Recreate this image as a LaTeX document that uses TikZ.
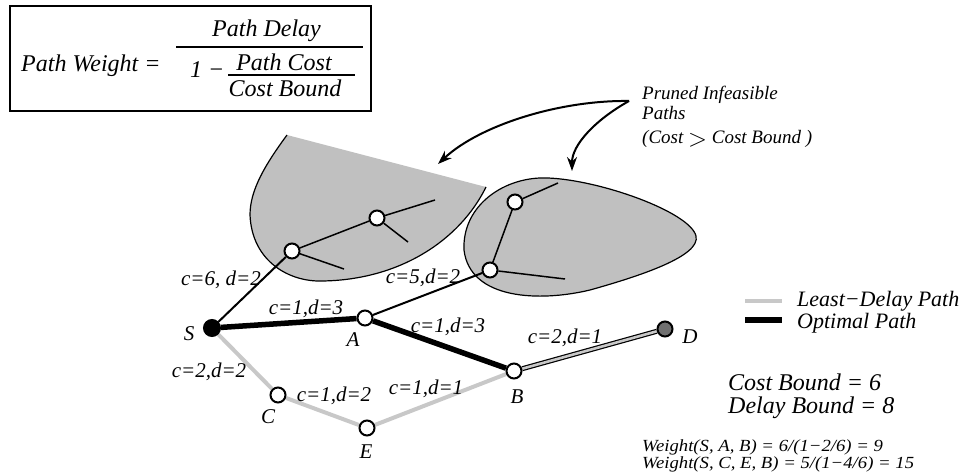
\documentclass[tikz,border=0pt]{standalone}
\usepackage{fontspec}
\setmainfont{Liberation Serif}
\usetikzlibrary{arrows.meta}
\pgfdeclarelayer{bg}
\pgfsetlayers{bg,main}
\definecolor{blobgray}{RGB}{192,192,192}
\definecolor{pathgray}{RGB}{200,200,200}
\definecolor{dgray}{RGB}{112,112,112}
\begin{document}
\begin{tikzpicture}[x=1pt,y=-1pt,
  vtx/.style={circle,draw=black,line width=2pt,fill=white,minimum size=15pt,inner sep=0pt},
  lbl/.style={font=\fontsize{21}{21}\selectfont\itshape,inner sep=0pt,anchor=base},
  fml/.style={font=\fontsize{24}{24}\selectfont\itshape,inner sep=0pt},
  legtxt/.style={font=\fontsize{22}{22}\selectfont\itshape,inner sep=0pt,anchor=base west},
  bndtxt/.style={font=\fontsize{24}{24}\selectfont\itshape,inner sep=0pt,anchor=base west},
  smalltxt/.style={font=\fontsize{19}{19}\selectfont\itshape,inner sep=0pt,anchor=base west},
  wtxt/.style={font=\fontsize{17}{17}\selectfont\itshape,inner sep=0pt,anchor=base west},
  thin/.style={line width=1.5pt},
  optimal/.style={line width=5.5pt},
  leastdelay/.style={line width=4pt,color=pathgray},
  pointer/.style={line width=2pt,-{Stealth[length=14pt,width=10pt]}},
  blob/.style={fill=blobgray}
]
\useasboundingbox (0,0) rectangle (961,476);

% ---------- formula box ----------
\node[draw=black,line width=1.3pt,minimum width=361pt,minimum height=105pt,inner sep=0pt] (fbox) at (190.5,58.5) {};
\node[fml,anchor=base west] (pw) at (21,72) {Path Weight =};
\node[fml,anchor=base] (pd) at (266.5,37) {Path Delay};
\coordinate (bar1l) at (176,47);
\coordinate (bar1r) at (363,47);
\draw[line width=1.5pt] (bar1l) -- (bar1r);
\node[fml,anchor=base west] (one) at (190,78) {1 −};
\coordinate (bar2l) at (228,75);
\coordinate (bar2r) at (355,75);
\draw[line width=1.3pt] (bar2l) -- (bar2r);
\node[fml,anchor=base] (pc) at (284,71) {Path Cost};
\node[fml,anchor=base] (cb) at (285,97) {Cost Bound};

% ---------- nodes ----------
\node[vtx,fill=black,minimum size=16pt] (S) at (212,328) {};
\node[vtx] (A) at (365,318) {};
\node[vtx] (B) at (514,371) {};
\node[vtx] (C) at (278,395) {};
\node[vtx] (E) at (367,428) {};
\node[vtx,fill=dgray] (D) at (665,329) {};
\node[vtx] (L1) at (292,251) {};
\node[vtx] (L2) at (377,218) {};
\node[vtx] (R1) at (490,270) {};
\node[vtx] (R2) at (515,202) {};
\coordinate (L1a) at (344,269);
\coordinate (L2a) at (435,200);
\coordinate (L2b) at (408,242);
\coordinate (R2a) at (558,183);
\coordinate (R1a) at (565,279);

\begin{pgfonlayer}{bg}
  % left pruned region
  \fill[blobgray] (287,135) .. controls (265,165) and (250,190) .. (250,215)
     .. controls (252,262) and (290,282) .. (322,281)
     .. controls (400,280) and (460,240) .. (486,187) -- cycle;
  \draw[line width=1.2pt] (287,135) .. controls (265,165) and (250,190) .. (250,215)
     .. controls (252,262) and (290,282) .. (322,281)
     .. controls (400,280) and (460,240) .. (486,187);
  % right pruned region
  \draw[blob,line width=1.2pt] (464,250) .. controls (462,205) and (505,176) .. (548,178)
     .. controls (600,180) and (690,212) .. (696,236)
     .. controls (701,256) and (640,276) .. (590,290)
     .. controls (540,302) and (470,300) .. (464,250) -- cycle;
  % pruned branches
  \draw[thin] (L1) -- (L2);
  \draw[thin] (L2) -- (L2a);
  \draw[thin] (L2) -- (L2b);
  \draw[thin] (L1) -- (L1a);
  \draw[thin] (R1) -- (R2);
  \draw[thin] (R2) -- (R2a);
  \draw[thin] (R1) -- (R1a);
  % main edges
  \draw[line width=2pt] (S) -- (L1);
  \draw[line width=2pt] (A) -- (R1);
  \draw[leastdelay] (S) -- (C);
  \draw[leastdelay] (C) -- (E);
  \draw[leastdelay] (E) -- (B);
  \draw[optimal] (S) -- (A);
  \draw[optimal] (A) -- (B);
  \draw[line width=5pt] (B) -- (D);
  \draw[line width=2.6pt,pathgray] (B) -- (D);
\end{pgfonlayer}

% ---------- edge labels ----------
\node[lbl] (l1) at (221,285) {c=6, d=2};
\node[lbl] (l2) at (306,314) {c=1,d=3};
\node[lbl] (l3) at (423,283) {c=5,d=2};
\node[lbl] (l4) at (448,332) {c=1,d=3};
\node[lbl] (l5) at (565,343) {c=2,d=1};
\node[lbl] (l6) at (209,377) {c=2,d=2};
\node[lbl] (l7) at (334,401) {c=1,d=2};
\node[lbl] (l8) at (426,394) {c=1,d=1};

% ---------- node names ----------
\node[lbl] (nS) at (189,340) {S};
\node[lbl] (nA) at (353,346) {A};
\node[lbl] (nB) at (517,403) {B};
\node[lbl] (nC) at (268,423) {C};
\node[lbl] (nE) at (366,458) {E};
\node[lbl] (nD) at (690,343) {D};

% ---------- pruned annotation ----------
\node[smalltxt] (pr1) at (642,100) {Pruned Infeasible};
\node[smalltxt] (pr2) at (642,120) {Paths};
\node[smalltxt] (pr3) at (642,143) {(Cost \raisebox{-3pt}{\fontsize{25}{25}\selectfont$>$} Cost Bound )};
\coordinate (ps) at (629,101);
\coordinate (pt1) at (438,164);
\coordinate (pt2) at (572,171);
\draw[pointer] (ps) .. controls (560,100) and (480,125) .. (pt1);
\draw[pointer] (ps) .. controls (595,120) and (572,145) .. (pt2);

% ---------- legend ----------
\coordinate (lg1a) at (745,301);
\coordinate (lg1b) at (782,301);
\coordinate (lg2a) at (745,320);
\coordinate (lg2b) at (782,320);
\draw[line width=4.5pt,pathgray] (lg1a) -- (lg1b);
\draw[line width=6pt] (lg2a) -- (lg2b);
\node[legtxt] (lt1) at (797,306) {Least−Delay Path};
\node[legtxt] (lt2) at (797,328) {Optimal Path};

\node[bndtxt] (cbnd) at (728,390) {Cost Bound = 6};
\node[bndtxt] (dbnd) at (728,413) {Delay Bound = 8};

\node[wtxt] (w1) at (642,451) {\scalebox{1.1}[1]{Weight(S, A, B) = 6/(1−2/6) = 9}};
\node[wtxt] (w2) at (642,468) {\scalebox{1.1}[1]{Weight(S, C, E, B) = 5/(1−4/6) = 15}};
\end{tikzpicture}
\end{document}
